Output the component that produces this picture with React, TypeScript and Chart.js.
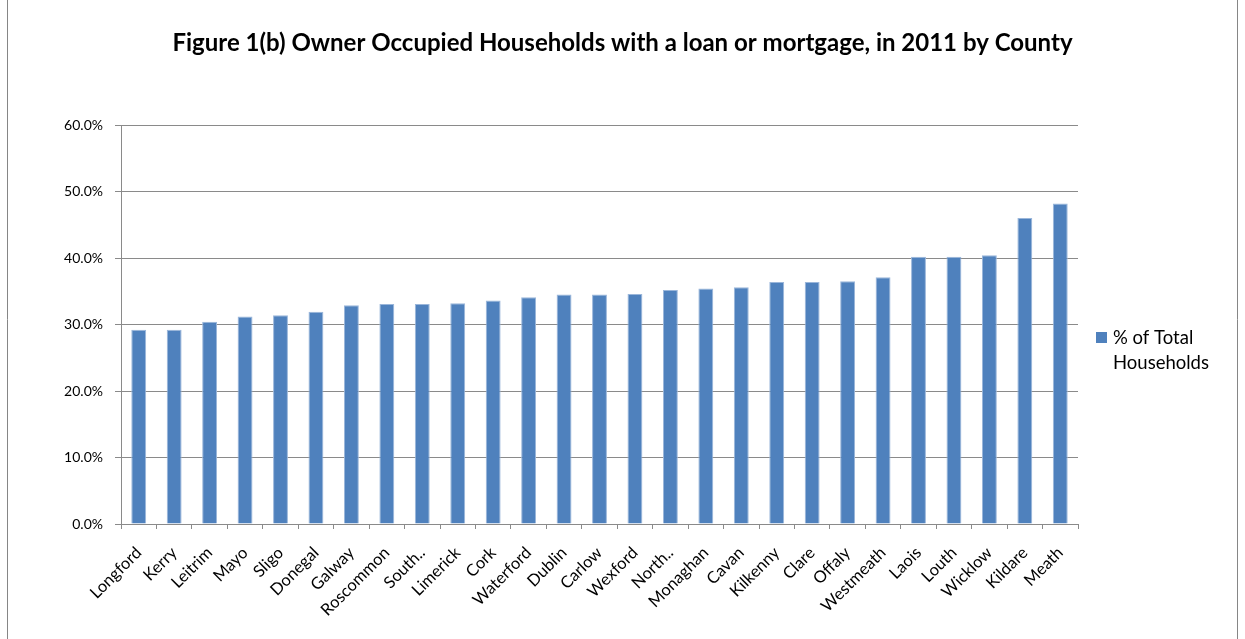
import React, { useEffect, useRef } from "react";
import { Chart, registerables } from "chart.js";

Chart.register(...registerables);

const titleText = "Figure 1(b) Owner Occupied Households with a loan or mortgage, in 2011 by County";
const seriesLabel = "% of Total Households";
const legendLines = ["% of Total", "Households"];

const counties = [
  "Longford", "Kerry", "Leitrim", "Mayo", "Sligo", "Donegal", "Galway", "Roscommon",
  "South..", "Limerick", "Cork", "Waterford", "Dublin", "Carlow", "Wexford", "North..",
  "Monaghan", "Cavan", "Kilkenny", "Clare", "Offaly", "Westmeath", "Laois", "Louth",
  "Wicklow", "Kildare", "Meath",
];

const percentValues = [
  29.2, 29.2, 30.4, 31.2, 31.4, 31.9, 32.9, 33.1,
  33.1, 33.2, 33.6, 34.1, 34.5, 34.5, 34.6, 35.2,
  35.4, 35.6, 36.4, 36.4, 36.5, 37.1, 40.2, 40.2,
  40.4, 46.0, 48.2,
];

const yTicks = [0, 10, 20, 30, 40, 50, 60];

const FONT = "Lato, 'Open Sans', sans-serif";
const BAR = "#4f81bd";
const GRID = "#8a8a8a";

export default function App() {
  const ref = useRef<HTMLCanvasElement | null>(null);

  useEffect(() => {
    document.body.style.margin = "0";
    const canvas = ref.current;
    if (!canvas) return;

    const framePlugin = {
      id: "frameAndLegend",
      beforeDraw(chart: any) {
        const ctx = chart.ctx;
        ctx.save();
        ctx.fillStyle = "#ffffff";
        ctx.fillRect(0, 0, chart.width, chart.height);
        ctx.strokeStyle = "#868686";
        ctx.lineWidth = 1;
        ctx.beginPath();
        ctx.moveTo(7.5, 0);
        ctx.lineTo(7.5, chart.height);
        ctx.moveTo(1237.5, 0);
        ctx.lineTo(1237.5, chart.height);
        ctx.stroke();
        ctx.restore();
      },
      afterDraw(chart: any) {
        const ctx = chart.ctx;
        const ds = chart.data.datasets[0];
        ctx.save();
        // title
        ctx.fillStyle = "#000000";
        ctx.font = `bold 24px ${FONT}`;
        ctx.textAlign = "center";
        ctx.textBaseline = "middle";
        ctx.fillText(titleText, 622.5, 43);
        // legend
        ctx.fillStyle = ds.backgroundColor;
        ctx.fillRect(1096, 332, 11, 11);
        ctx.fillStyle = "#000000";
        ctx.font = `18.5px ${FONT}`;
        ctx.textBaseline = "middle";
        ctx.textAlign = "left";
        legendLines.forEach((line, i) => {
          ctx.fillText(line, 1113, 338 + i * 25);
        });
        ctx.restore();
      },
    };

    const chart = new Chart(canvas, {
      type: "bar",
      data: {
        labels: counties,
        datasets: [
          {
            label: seriesLabel,
            data: percentValues,
            backgroundColor: BAR,
            borderColor: "#9ab6da",
            borderWidth: 1,
            barPercentage: 0.42,
            categoryPercentage: 1,
          },
        ],
      },
      options: {
        responsive: false,
        animation: false,
        layout: { padding: { left: 0, right: 167, top: 125, bottom: 0 } },
        plugins: {
          legend: { display: false },
          tooltip: { enabled: false },
          title: { display: false },
        },
        scales: {
          x: {
            offset: true,
            grid: {
              display: true,
              offset: true,
              drawOnChartArea: false,
              drawTicks: true,
              tickLength: 5,
              color: GRID,
            },
            border: { display: true, color: GRID, width: 1 },
            ticks: {
              autoSkip: false,
              maxRotation: 45,
              minRotation: 45,
              padding: 14,
              color: "#000000",
              font: { family: FONT, size: 16.5 },
            },
            afterFit(scale: any) {
              scale.height = 115;
            },
          },
          y: {
            min: 0,
            max: 60,
            afterBuildTicks(scale: any) {
              scale.ticks = yTicks.map((v) => ({ value: v }));
            },
            grid: {
              color: GRID,
              lineWidth: 1,
              drawTicks: true,
              tickLength: 6,
            },
            border: { display: true, color: GRID, width: 1 },
            ticks: {
              padding: 12,
              color: "#000000",
              font: { family: FONT, size: 14 },
              callback: (v: any) => `${Number(v).toFixed(1)}%`,
            },
            afterFit(scale: any) {
              scale.width = 121;
            },
          },
        },
      },
      plugins: [framePlugin],
    });

    return () => chart.destroy();
  }, []);

  return (
    <div style={{ position: "absolute", left: 0, top: 0, width: 1245, height: 639 }}>
      <canvas ref={ref} width={1245} height={639} />
    </div>
  );
}
